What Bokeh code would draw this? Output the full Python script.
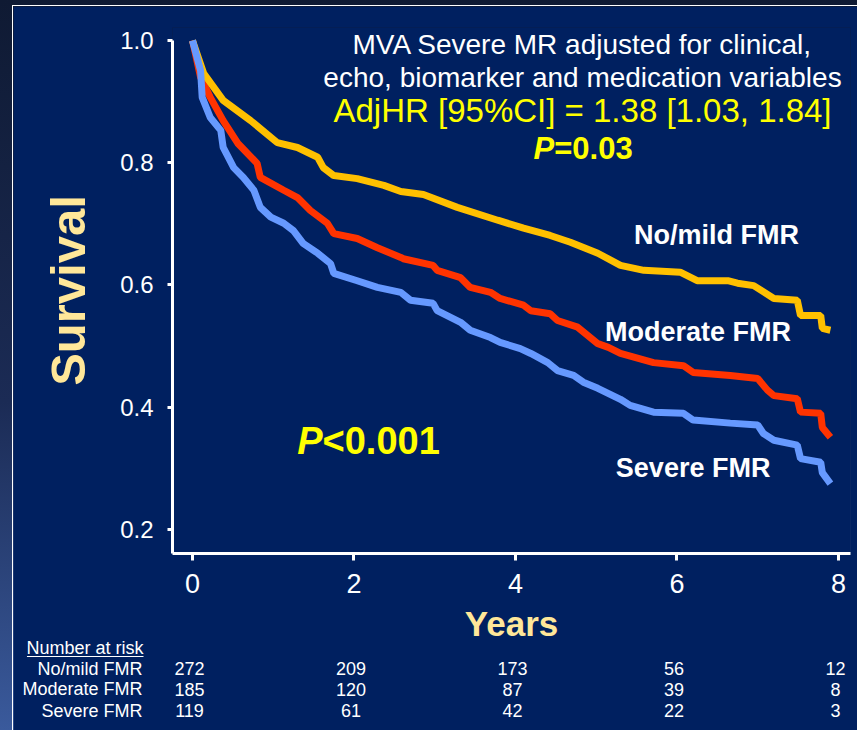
from bokeh.plotting import figure
from bokeh.models import Label, FixedTicker, Range1d, PrintfTickFormatter
from bokeh.layouts import column
from bokeh.embed import file_html
from bokeh.resources import INLINE

# ---------------- data ----------------
years_nomild = [0.0, 0.14, 0.38, 0.72, 1.05, 1.30, 1.55, 1.62, 1.75, 2.04, 2.37, 2.58, 2.86,
                3.28, 3.78, 4.10, 4.43, 4.68, 5.02, 5.30, 5.59, 6.04, 6.25, 6.63, 6.75, 6.95,
                7.20, 7.49, 7.53, 7.78, 7.80, 7.90]
surv_nomild = [1.0, 0.946, 0.902, 0.869, 0.833, 0.825, 0.809, 0.792, 0.779, 0.774, 0.763, 0.753,
               0.748, 0.727, 0.706, 0.693, 0.681, 0.670, 0.652, 0.632, 0.624, 0.621, 0.607, 0.607,
               0.603, 0.599, 0.578, 0.575, 0.550, 0.550, 0.529, 0.526]

years_moderate = [0.0, 0.10, 0.22, 0.38, 0.56, 0.80, 0.84, 1.13, 1.30, 1.46, 1.67, 1.75, 2.04,
                  2.29, 2.58, 2.61, 2.98, 3.03, 3.32, 3.44, 3.69, 3.81, 4.10, 4.19, 4.43, 4.52,
                  4.77, 5.02, 5.15, 5.30, 5.71, 6.08, 6.20, 6.66, 7.00, 7.12, 7.20, 7.49, 7.53,
                  7.78, 7.80, 7.90]
surv_moderate = [1.0, 0.94, 0.907, 0.869, 0.832, 0.799, 0.776, 0.755, 0.743, 0.722, 0.701, 0.684,
                 0.676, 0.661, 0.645, 0.643, 0.632, 0.624, 0.612, 0.596, 0.588, 0.578, 0.567,
                 0.558, 0.553, 0.542, 0.531, 0.504, 0.498, 0.488, 0.473, 0.468, 0.457, 0.452,
                 0.447, 0.428, 0.419, 0.414, 0.392, 0.390, 0.367, 0.351]

years_severe = [0.0, 0.10, 0.12, 0.22, 0.35, 0.38, 0.51, 0.63, 0.76, 0.84, 0.97, 1.13, 1.25,
                1.37, 1.55, 1.71, 1.75, 2.04, 2.29, 2.58, 2.70, 2.98, 3.03, 3.32, 3.44, 3.69,
                3.81, 4.06, 4.19, 4.40, 4.52, 4.72, 4.84, 5.02, 5.30, 5.42, 5.71, 6.08, 6.20,
                6.66, 7.00, 7.07, 7.20, 7.49, 7.53, 7.78, 7.80, 7.90]
surv_severe = [1.0, 0.951, 0.907, 0.874, 0.853, 0.825, 0.792, 0.776, 0.755, 0.727, 0.711, 0.701,
               0.689, 0.668, 0.652, 0.635, 0.619, 0.607, 0.596, 0.588, 0.575, 0.570, 0.558,
               0.539, 0.526, 0.514, 0.506, 0.496, 0.488, 0.473, 0.460, 0.452, 0.441, 0.431,
               0.413, 0.403, 0.392, 0.390, 0.379, 0.374, 0.371, 0.357, 0.346, 0.338, 0.316,
               0.310, 0.293, 0.275]

x_ticks = [0, 2, 4, 6, 8]
y_ticks = [0.2, 0.4, 0.6, 0.8, 1.0]

risk_times = [0, 2, 4, 6, 8]
risk_groups = ["No/mild FMR", "Moderate FMR", "Severe FMR"]
risk_nomild = [272, 209, 173, 56, 12]
risk_moderate = [185, 120, 87, 39, 8]
risk_severe = [119, 61, 42, 22, 3]

# ---------------- style ----------------
NAVY = "#002060"
FONT = "Liberation Sans"
C_NOMILD = "#FFC000"
C_MOD = "#FF3300"
C_SEV = "#6699FF"
LIGHT_YELLOW = "#FFE799"
YELLOW = "#FFFF00"

p = figure(width=845, height=725, output_backend="svg", toolbar_location=None,
           x_range=Range1d(-0.2477, 8.149), y_range=Range1d(0.1607, 1.0213),
           min_border_left=159, min_border_right=8, min_border_top=21, min_border_bottom=178,
           background_fill_color=NAVY, border_fill_color=NAVY, outline_line_color=None)
p.styles = {"border-left": "1px solid #ffffff", "border-top": "1px solid #ffffff"}
p.xgrid.visible = False
p.ygrid.visible = False

for ax in (p.xaxis[0], p.yaxis[0]):
    ax.axis_line_color = "white"
    ax.axis_line_width = 3
    ax.major_tick_line_color = "white"
    ax.major_tick_line_width = 3
    ax.major_tick_in = 0
    ax.minor_tick_line_color = None
    ax.major_label_text_color = "white"
    ax.major_label_text_font = FONT
    ax.axis_label_text_color = LIGHT_YELLOW
    ax.axis_label_text_font = FONT
    ax.axis_label_text_font_style = "bold"

p.xaxis.ticker = FixedTicker(ticks=x_ticks)
p.xaxis.major_tick_out = 7
p.xaxis.major_label_text_font_size = "27px"
p.xaxis.major_label_standoff = 13
p.xaxis.axis_label = "Years"
p.xaxis.axis_label_text_font_size = "35px"
p.xaxis.axis_label_standoff = 8

p.yaxis.ticker = FixedTicker(ticks=y_ticks)
p.yaxis.formatter = PrintfTickFormatter(format="%.1f")
p.yaxis.major_tick_out = 5
p.yaxis.major_label_text_font_size = "24px"
p.yaxis.major_label_standoff = 14
p.yaxis.axis_label = "Survival"
p.yaxis.axis_label_text_font_size = "49px"
p.yaxis.axis_label_standoff = 22
p.yaxis.bounds = (0.1607, 1.0)

p.line(years_moderate, surv_moderate, line_color=C_MOD, line_width=7)
p.line(years_nomild, surv_nomild, line_color=C_NOMILD, line_width=7)
p.line(years_severe, surv_severe, line_color=C_SEV, line_width=7)


def lab(fig, x, y, text, size, color="white", style="normal", align="center", x_offset=0):
    fig.add_layout(Label(x=x, y=y, text=text, text_font=FONT, text_font_size=size,
                         text_color=color, text_font_style=style, text_align=align,
                         text_baseline="middle", x_offset=x_offset))


# title block
lab(p, 4.83, 0.9935, "MVA Severe MR adjusted for clinical,", "28px")
lab(p, 4.83, 0.9395, "echo, biomarker and medication variables", "28px")
lab(p, 4.83, 0.8855, "AdjHR [95%CI] = 1.38 [1.03, 1.84]", "33px", color=YELLOW)
lab(p, 4.48, 0.8241, "P", "31px", color=YELLOW, style="bold italic", align="right")
lab(p, 4.48, 0.8241, "=0.03", "31px", color=YELLOW, style="bold", align="left")

# p-value
lab(p, 1.61, 0.3448, "P", "38px", color=YELLOW, style="bold italic", align="right")
lab(p, 1.61, 0.3448, "<0.001", "38px", color=YELLOW, style="bold", align="left")

# group labels
lab(p, 6.49, 0.6810, "No/mild FMR", "27px", style="bold")
lab(p, 6.26, 0.5223, "Moderate FMR", "27px", style="bold")
lab(p, 6.20, 0.2998, "Severe FMR", "27px", style="bold")

# ---------------- number-at-risk overlay (same year scale, y in page pixels) ----------------
p2 = figure(width=845, height=100, output_backend="svg", toolbar_location=None,
            x_range=Range1d(-2.21672, 8.24768), y_range=Range1d(731, 631),
            min_border=0, x_axis_location=None, y_axis_location=None,
            background_fill_alpha=0, border_fill_alpha=0, outline_line_color=None)
p2.styles = {"border-left": "1px solid transparent"}
p2.grid.visible = False

lab(p2, -0.607, 648, "Number at risk", "18px", align="right")
p2.segment(x0=[-2.05], y0=[657], x1=[-0.607], y1=[657], line_color="white", line_width=1.2)
row_y = [669, 689.5, 711]
for name, yv, counts in zip(risk_groups, row_y, [risk_nomild, risk_moderate, risk_severe]):
    lab(p2, -0.619, yv, name, "18px", align="right")
    for t, n in zip(risk_times, counts):
        lab(p2, t, yv, str(n), "18px", align="center", x_offset=-3)

overlay = column(p2, styles={"margin-top": "-100px"})
layout = column(p, overlay, styles={"background": "linear-gradient(180deg, #0f1a33 0%, #1b2b55 55%, #3a5a9c 100%)",
                                    "padding-left": "12px", "padding-top": "5px"})

open("out.html", "w").write(file_html(layout, INLINE))
